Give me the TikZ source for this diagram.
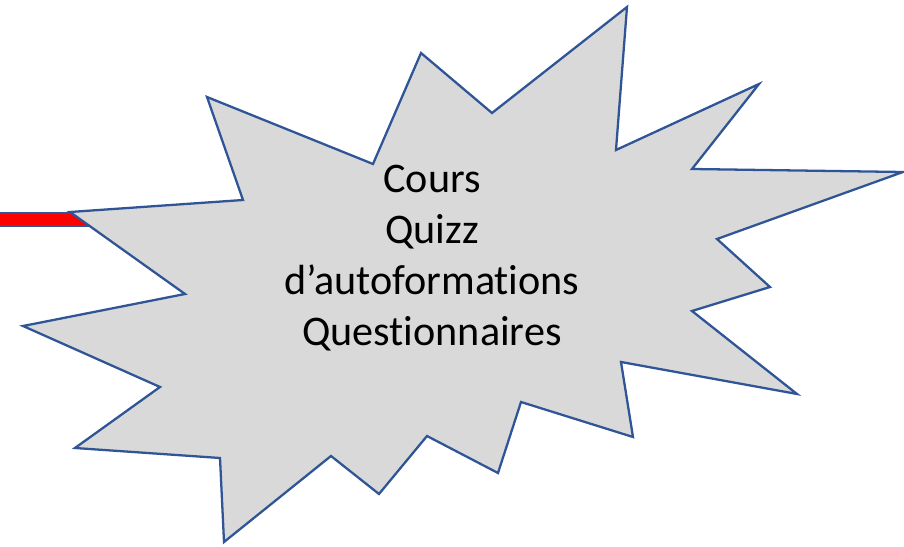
\documentclass[tikz,border=0pt]{standalone}
\usepackage{fontspec}
\setmainfont[Ligatures={NoCommon}]{Carlito}
\definecolor{bordoBlu}{HTML}{2F5597}
\definecolor{grigioStella}{HTML}{D9D9D9}
\begin{document}
\begin{tikzpicture}[x=0.02cm, y=-0.02cm, line join=miter]
\useasboundingbox (0,0) rectangle (904,547);

% Barra rossa
\draw[bordoBlu, line width=1.3pt, fill=red] (-5,213) rectangle (100,226);

% Stella
\draw[bordoBlu, line width=1.3pt, fill=grigioStella]
  (70,212) -- (243,200) -- (207,97) -- (373,164) -- (421,53) -- (492,113)
  -- (627,7) -- (616,150) -- (759,84) -- (692,169) -- (903,172) -- (717,239)
  -- (770,287) -- (692,311) -- (797,394) -- (621,362) -- (633,437) -- (521,402)
  -- (498,473) -- (427,436) -- (379,494) -- (331,456) -- (224,542) -- (220,458)
  -- (75,448) -- (160,387) -- (23,326) -- (185,294) -- cycle;

% Testo
\node[align=center, font=\fontsize{24}{29}\selectfont] (testo) at (432,258)
  {Cours\\Quizz\\d’autoformations\\Questionnaires};

\end{tikzpicture}
\end{document}
